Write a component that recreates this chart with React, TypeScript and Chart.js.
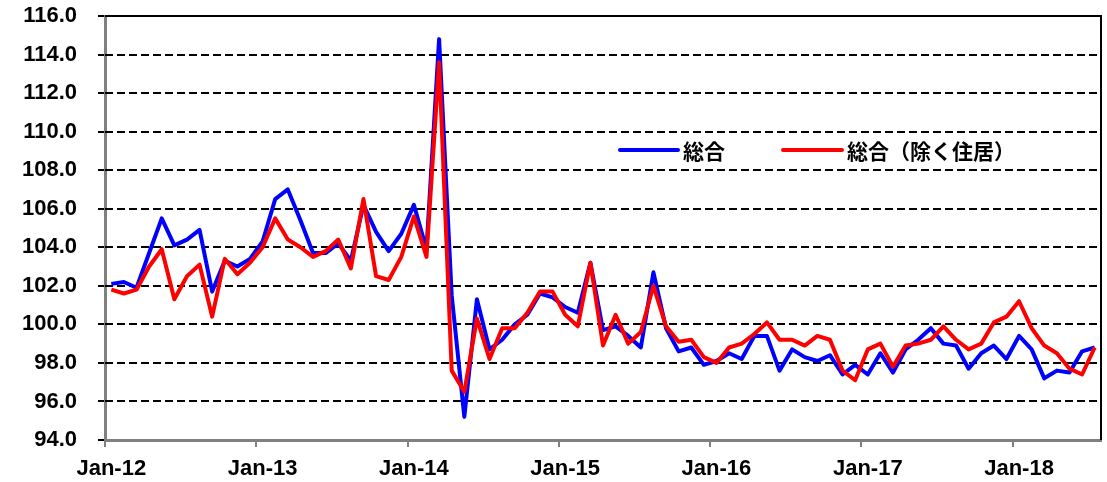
import React, { useEffect, useRef } from 'react';
import { Chart, registerables } from 'chart.js';

Chart.register(...registerables);

const monthNames = ['Jan', 'Feb', 'Mar', 'Apr', 'May', 'Jun', 'Jul', 'Aug', 'Sep', 'Oct', 'Nov', 'Dec'];
const years = ['12', '13', '14', '15', '16', '17', '18'];
const monthCount = 79;
const categories: string[] = [];
years.forEach((y) => monthNames.forEach((m) => categories.push(`${m}-${y}`)));
categories.length = monthCount;

const seriesNames = ['総合', '総合（除く住居）'];

const sogo: number[] = [
  102.1, 102.2, 101.9, 103.7, 105.5, 104.1, 104.4, 104.9, 101.7, 103.3, 103.0, 103.4,
  104.3, 106.5, 107.0, 105.4, 103.7, 103.7, 104.2, 103.3, 106.2, 104.8, 103.8, 104.7,
  106.2, 103.9, 114.8, 101.5, 95.2, 101.3, 98.7, 99.2, 100.0, 100.5, 101.6, 101.4,
  100.9, 100.6, 103.2, 99.7, 99.9, 99.4, 98.8, 102.7, 99.8, 98.6, 98.8, 97.9,
  98.1, 98.5, 98.2, 99.4, 99.4, 97.6, 98.7, 98.3, 98.1, 98.4, 97.4, 97.9,
  97.4, 98.5, 97.5, 98.7, 99.2, 99.8, 99.0, 98.9, 97.7, 98.5, 98.9, 98.2,
  99.4, 98.7, 97.2, 97.6, 97.5, 98.6, 98.8,
];

const sogoExHousing: number[] = [
  101.8, 101.6, 101.8, 103.0, 103.9, 101.3, 102.5, 103.1, 100.4, 103.4, 102.6, 103.2,
  104.0, 105.5, 104.4, 104.0, 103.5, 103.8, 104.4, 102.9, 106.5, 102.5, 102.3, 103.5,
  105.6, 103.5, 113.6, 97.6, 96.5, 100.3, 98.2, 99.8, 99.8, 100.6, 101.7, 101.7,
  100.5, 99.9, 103.2, 98.9, 100.5, 99.0, 99.6, 102.0, 99.9, 99.1, 99.2, 98.3,
  98.0, 98.8, 99.0, 99.5, 100.1, 99.2, 99.2, 98.9, 99.4, 99.2, 97.6, 97.1,
  98.7, 99.0, 97.8, 98.9, 99.0, 99.2, 99.9, 99.2, 98.7, 99.0, 100.1, 100.4,
  101.2, 99.8, 98.9, 98.5, 97.7, 97.4, 98.8,
];

const yMin = 94;
const yMax = 116;
const yStep = 2;

const BLUE = '#0000FF';
const RED = '#FF0000';
const LABEL_FONT = "'Liberation Sans', Arial, sans-serif";
const CJK_FONT = "'Noto Sans CJK JP', 'Noto Sans', sans-serif";

const framePlugin = {
  id: 'frame',
  beforeDatasetsDraw(chart: any) {
    const { ctx, chartArea: a, scales } = chart;
    const y = scales.y;
    ctx.save();
    ctx.strokeStyle = '#000000';
    ctx.lineWidth = 2;
    ctx.setLineDash([8, 4]);
    y.ticks.forEach((t: any) => {
      if (t.value === yMin || t.value === yMax) return;
      const py = Math.round(y.getPixelForValue(t.value));
      ctx.beginPath();
      ctx.moveTo(a.left, py);
      ctx.lineTo(a.right, py);
      ctx.stroke();
    });
    ctx.setLineDash([]);
    ctx.beginPath();
    ctx.moveTo(a.left, a.top);
    ctx.lineTo(a.right, a.top);
    ctx.lineTo(a.right, a.bottom);
    ctx.stroke();
    ctx.restore();
  },
  afterDraw(chart: any) {
    const { ctx } = chart;
    ctx.save();
    const items = [
      { x0: 620, x1: 678, tx: 683, color: BLUE, text: seriesNames[0] },
      { x0: 783, x1: 842, tx: 847, color: RED, text: seriesNames[1] },
    ];
    const ly = 150;
    items.forEach((it) => {
      ctx.strokeStyle = it.color;
      ctx.lineWidth = 4;
      ctx.lineCap = 'round';
      ctx.beginPath();
      ctx.moveTo(it.x0, ly);
      ctx.lineTo(it.x1, ly);
      ctx.stroke();
      ctx.fillStyle = '#000000';
      ctx.font = `bold 21px ${CJK_FONT}`;
      ctx.textBaseline = 'middle';
      ctx.textAlign = 'left';
      ctx.fillText(it.text, it.tx, ly + 1);
    });
    ctx.restore();
  },
};

export default function App() {
  const ref = useRef<HTMLCanvasElement | null>(null);

  useEffect(() => {
    document.body.style.margin = '0';
    const canvas = ref.current;
    if (!canvas) return;
    const chart = new Chart(canvas, {
      type: 'line',
      data: {
        labels: categories,
        datasets: [
          {
            label: seriesNames[0],
            data: sogo,
            borderColor: BLUE,
            backgroundColor: BLUE,
            borderWidth: 4,
            pointRadius: 0,
            tension: 0,
            borderJoinStyle: 'round',
            order: 2,
          },
          {
            label: seriesNames[1],
            data: sogoExHousing,
            borderColor: RED,
            backgroundColor: RED,
            borderWidth: 4,
            pointRadius: 0,
            tension: 0,
            borderJoinStyle: 'round',
            order: 1,
          },
        ],
      },
      options: {
        responsive: false,
        animation: false,
        devicePixelRatio: 1,
        layout: { padding: { top: 16, right: 6, left: 0, bottom: 0 } },
        plugins: { legend: { display: false }, tooltip: { enabled: false } },
        scales: {
          x: {
            type: 'category',
            offset: true,
            grid: {
              offset: true,
              drawOnChartArea: false,
              drawTicks: true,
              tickLength: 7,
              color: '#808080',
              lineWidth: (c: any) => (c.index % 12 === 0 ? 2 : 0),
              tickWidth: (c: any) => (c.index % 12 === 0 ? 2 : 0),
            },
            border: { display: true, color: '#808080', width: 3 },
            ticks: {
              autoSkip: false,
              maxRotation: 0,
              minRotation: 0,
              padding: 9,
              color: '#000000',
              font: { family: LABEL_FONT, size: 22, weight: 'bold' },
              callback: (_v: any, i: number) => (i % 12 === 0 ? categories[i] : ''),
            },
            afterFit: (s: any) => {
              s.height = 42;
              s.paddingLeft = 0;
              s.paddingRight = 0;
            },
          },
          y: {
            min: yMin,
            max: yMax,
            grid: {
              drawOnChartArea: false,
              drawTicks: true,
              tickLength: 7,
              color: '#000000',
              lineWidth: 2,
            },
            border: { display: true, color: '#808080', width: 3 },
            ticks: {
              stepSize: yStep,
              padding: 21,
              color: '#000000',
              font: { family: LABEL_FONT, size: 22, weight: 'bold' },
              callback: (v: any) => Number(v).toFixed(1),
            },
            afterFit: (s: any) => {
              s.width = 105;
              s.paddingTop = 0;
              s.paddingBottom = 0;
            },
          },
        },
      },
      plugins: [framePlugin],
    });
    return () => chart.destroy();
  }, []);

  return (
    <div style={{ width: 1107, height: 482 }}>
      <canvas ref={ref} width={1107} height={482} style={{ display: 'block' }} />
    </div>
  );
}
